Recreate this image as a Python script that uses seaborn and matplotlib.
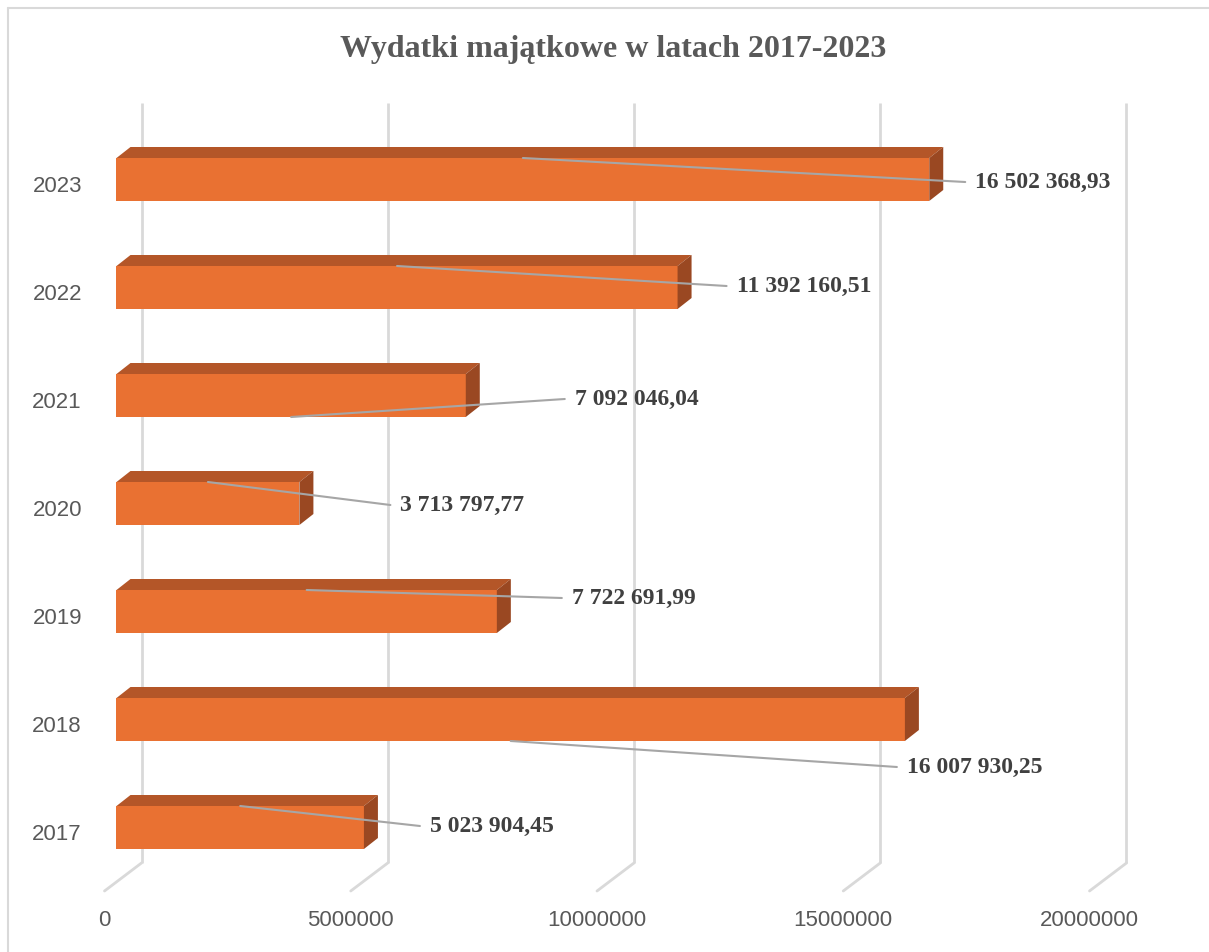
import matplotlib
matplotlib.use("Agg")
import matplotlib.pyplot as plt
import seaborn as sns
import pandas as pd
from matplotlib.patches import Polygon
from matplotlib.lines import Line2D

# --- data ---------------------------------------------------------------
years = ["2023", "2022", "2021", "2020", "2019", "2018", "2017"]
values = [16502368.93, 11392160.51, 7092046.04, 3713797.77,
          7722691.99, 16007930.25, 5023904.45]
x_ticks = [0, 5000000, 10000000, 15000000, 20000000]
title = "Wydatki majątkowe w latach 2017-2023"

# data-label placement (pixels relative to bar end / bar centre) and the
# bar edge the leader line starts from
label_dx = [46, 59, 109, 101, 75, 2, 66]
label_dy = [2.5, -1.5, 3.5, 1.5, -13.5, 47.5, -1.5]
leader_edge = ["top", "top", "bottom", "top", "top", "bottom", "top"]

# --- styling ------------------------------------------------------------
FRONT = "#E97132"
TOP = "#B45628"
SIDE = "#9A4822"
GRID = "#D9D9D9"
AXIS_TXT = "#595959"
LABEL_TXT = "#404040"
LEADER = "#A6A6A6"

W, H, DPI = 1209, 952, 100
PX_PER_UNIT = 49.25e-6          # horizontal scale: pixels per zloty
U = 1.0 / PX_PER_UNIT           # zloty per pixel
X0_PX = 116.5                   # front face of bars at value 0
ROW_PX = 108.0                  # vertical pitch of categories
Y0_PX = 179.5                   # centre of first category

sns.set_theme(style="white")
plt.rcParams["font.family"] = ["Liberation Sans", "DejaVu Sans"]

fig = plt.figure(figsize=(W / DPI, H / DPI), dpi=DPI, facecolor="white")
ax = fig.add_axes([0, 0, 1, 1])

df = pd.DataFrame({"rok": years, "wydatki": values})
bar_w = 43.0 / ROW_PX
sns.barplot(data=df, x="wydatki", y="rok", order=years, orient="h",
            color=FRONT, saturation=1, width=bar_w, edgecolor="none",
            ax=ax, zorder=2)

ax.set_xlim(-X0_PX * U, (W - X0_PX) * U)
ax.set_ylim((H - Y0_PX) / ROW_PX, -Y0_PX / ROW_PX)
ax.axis("off")


def px_x(px):
    return (px - X0_PX) * U


def px_y(py):
    return (py - Y0_PX) / ROW_PX


# 3-D depth of the bars and of the chart walls
bar_dx, bar_dy = 14 * U, -11 / ROW_PX
wall_back_dx = 25 * U           # back wall relative to bar front plane
floor_front_dx = -12 * U        # front edge of floor
y_wall_top, y_wall_bot, y_floor_front = px_y(103), px_y(863), px_y(891)

# gridlines on the back wall plus their floor continuation
for t in x_ticks:
    xb = t + wall_back_dx
    xf = t + floor_front_dx
    ax.add_line(Line2D([xb, xb], [y_wall_top, y_wall_bot], color=GRID,
                       lw=2, zorder=0, solid_capstyle="butt"))
    ax.add_line(Line2D([xb, xf], [y_wall_bot, y_floor_front], color=GRID,
                       lw=2, zorder=0))
    ax.text(xf, px_y(920), f"{t:d}", ha="center", va="center",
            fontsize=16, color=AXIS_TXT)

# top and side faces of each bar
half = bar_w / 2
for i, v in enumerate(values):
    top, bot = i - half, i + half
    ax.add_patch(Polygon([(0, top), (v, top), (v + bar_dx, top + bar_dy),
                          (bar_dx, top + bar_dy)], closed=True,
                         facecolor=TOP, edgecolor="none", zorder=2))
    ax.add_patch(Polygon([(v, top), (v + bar_dx, top + bar_dy),
                          (v + bar_dx, bot + bar_dy), (v, bot)], closed=True,
                         facecolor=SIDE, edgecolor="none", zorder=2))
    ax.text(px_x(82), i + 7 / ROW_PX, years[i], ha="right", va="center",
            fontsize=16, color=AXIS_TXT)


def fmt_pl(v):
    s = f"{v:,.2f}"
    return s.replace(",", " ").replace(".", ",")


# data labels with leader lines
for i, v in enumerate(values):
    lx = v + label_dx[i] * U
    ly = i + label_dy[i] / ROW_PX
    sy = i - half if leader_edge[i] == "top" else i + half
    ax.add_line(Line2D([v / 2, lx - 10 * U], [sy, ly], color=LEADER,
                       lw=1.5, zorder=3))
    ax.text(lx, ly, fmt_pl(v), ha="left", va="center", fontsize=17,
            fontweight="bold", color=LABEL_TXT,
            family=["Liberation Serif", "DejaVu Serif"], zorder=4)

# chart title
fig.text(613 / W, 1 - 49 / H, title, ha="center", va="center",
         fontsize=23, fontweight="bold", color=AXIS_TXT,
         family=["Liberation Serif", "DejaVu Serif"])

# chart-area border
fig.add_artist(Line2D([8 / W, 1], [1 - 8 / H, 1 - 8 / H], color=GRID,
                      lw=1.5, transform=fig.transFigure))
fig.add_artist(Line2D([8 / W, 8 / W], [1 - 8 / H, 0], color=GRID,
                      lw=1.5, transform=fig.transFigure))

fig.savefig("out.png", dpi=DPI, facecolor="white")
